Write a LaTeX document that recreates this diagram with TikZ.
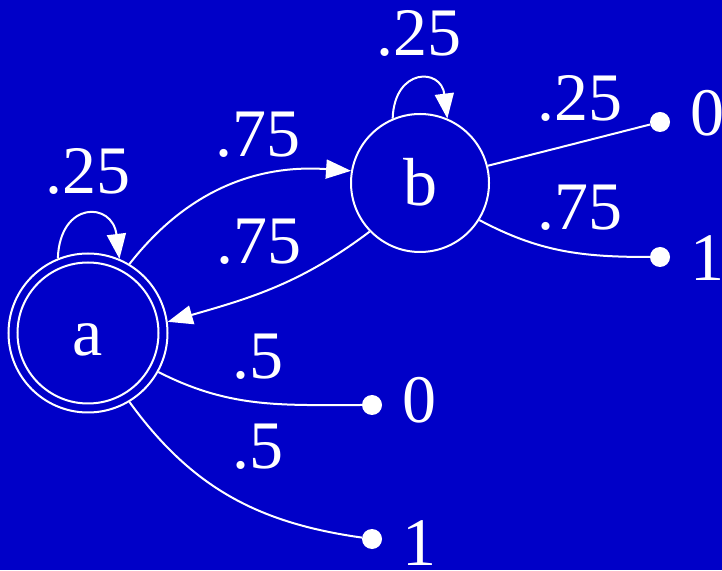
\documentclass[tikz,border=0pt]{standalone}
\usepackage{fontspec}
\setmainfont{Liberation Serif}
\usetikzlibrary{
  arrows.meta,
  positioning
}
\definecolor{fsmblue}{HTML}{0000C8}

\begin{document}
\begin{tikzpicture}[
  x=1pt, y=1pt,
  every node/.style={font=\fontsize{68}{80}\selectfont, text=white},
  state/.style={draw=white, line width=2pt, circle, inner sep=0pt,
    text height=46pt, text depth=0pt},
  term/.style={circle, fill=white, minimum size=20pt, inner sep=0pt},
  prob/.style={inner sep=0pt},
  wire/.style={draw=white, line width=2pt},
  arrow/.style={wire, -{Triangle[length=25pt, width=19pt]}}
]

  \fill[fsmblue] (0,0) rectangle (722,570);
  \useasboundingbox (0,0) rectangle (722,570);

  % states
  \node[state, minimum size=159pt] (a) at (88,237) {a};
  \draw[wire] (a.center) circle[radius=70.5];
  \node[state, minimum size=138pt] (b) at (420,387) {b};

  % output points
  \node[term] (b0) at (660,448) {};
  \node[term] (b1) at (660,313) {};
  \node[term] (a0) at (372,165) {};
  \node[term] (a1) at (372,31) {};

  \node[prob, right=20pt of b0, yshift=9pt] (b0-out) {0};
  \node[prob, right=20pt of b1, yshift=-1pt] (b1-out) {1};
  \node[prob, right=20pt of a0, yshift=5pt] (a0-out) {0};
  \node[prob, right=20pt of a1, yshift=-4pt] (a1-out) {1};

  % transitions
  \draw[arrow] (a.112) to[out=88, in=97, looseness=2.4] (a.67);
  \draw[arrow] (b.113) to[out=88, in=97, looseness=2.4] (b.67);
  \draw[arrow] (a.59) to[out=52, in=176] (b.170);
  \draw[arrow] (b.224) to[out=217, in=16] (a.8);

  \draw[wire] (a.-29) to[out=-27, in=180] (a0);
  \draw[wire] (a.-59) to[out=-54, in=172] (a1);
  \draw[wire] (b) -- (b0);
  \draw[wire] (b.-32) to[out=-28, in=180] (b1);

  % probabilities
  \node[prob] (p-aa) at (88,399) {.25};
  \node[prob] (p-bb) at (419,537) {.25};
  \node[prob] (p-ab) at (258,435) {.75};
  \node[prob] (p-ba) at (259,328) {.75};
  \node[prob] (p-a0) at (258,213) {.5};
  \node[prob] (p-a1) at (258,123) {.5};
  \node[prob] (p-b0) at (580,472) {.25};
  \node[prob] (p-b1) at (580,362) {.75};

\end{tikzpicture}
\end{document}
